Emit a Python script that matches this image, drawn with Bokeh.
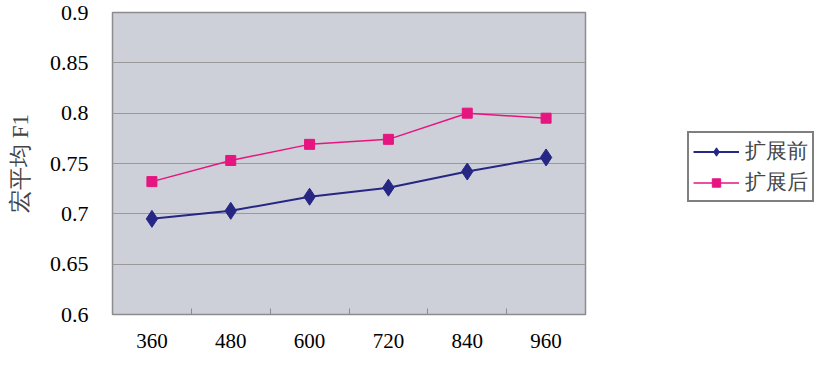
from bokeh.plotting import figure
from bokeh.models import FixedTicker, CustomJSTickFormatter, Legend, LegendItem, Range1d
from bokeh.embed import file_html
from bokeh.resources import INLINE

sizes = [360, 480, 600, 720, 840, 960]
before = [0.695, 0.703, 0.717, 0.726, 0.742, 0.756]
after = [0.732, 0.753, 0.769, 0.774, 0.800, 0.795]
series_names = ["扩展前", "扩展后"]
y_ticks = [0.6, 0.65, 0.7, 0.75, 0.8, 0.85, 0.9]
y_label = "宏平均 F1"

SERIF = "Liberation Serif"
BLUE = "#262684"
PINK = "#E6157F"

p = figure(frame_width=473, frame_height=302, output_backend="svg", toolbar_location=None,
           x_range=Range1d(300, 1020), y_range=Range1d(0.6, 0.9),
           min_border_left=112, min_border_top=12, min_border_bottom=39, min_border_right=226)
p.background_fill_color = "#CDD0D8"
p.border_fill_color = "white"
p.outline_line_color = "#8C8C8C"
p.outline_line_width = 1.5

r1 = p.line(sizes, before, line_color=BLUE, line_width=2)
m1 = p.scatter(sizes, before, marker="diamond", size=17, fill_color=BLUE, line_color=BLUE)
r2 = p.line(sizes, after, line_color=PINK, line_width=1.5)
m2 = p.scatter(sizes, after, marker="square", size=10, fill_color=PINK, line_color=PINK)

minor = [(a + b) / 2 for a, b in zip(sizes[:-1], sizes[1:])]
p.xaxis.ticker = FixedTicker(ticks=sizes, minor_ticks=minor)
p.xaxis.major_tick_line_color = None
p.xaxis.minor_tick_line_color = "#8C8C8C"
p.xaxis.minor_tick_in = 6
p.xaxis.minor_tick_out = 0
p.xaxis.axis_line_color = None
p.xaxis.major_label_standoff = 13
p.xaxis.major_label_text_font = SERIF
p.xaxis.major_label_text_font_size = "21px"
p.xaxis.major_label_text_color = "black"
p.xgrid.grid_line_color = None

p.yaxis.ticker = FixedTicker(ticks=y_ticks)
p.yaxis.formatter = CustomJSTickFormatter(code="return tick.toFixed(2).replace(/0$/, '');")
p.yaxis.major_tick_line_color = None
p.yaxis.minor_tick_line_color = None
p.yaxis.axis_line_color = None
p.yaxis.major_label_standoff = 18
p.yaxis.major_label_text_font = SERIF
p.yaxis.major_label_text_font_size = "22px"
p.yaxis.major_label_text_color = "black"
p.yaxis.axis_label = y_label
p.yaxis.axis_label_text_font = SERIF
p.yaxis.axis_label_text_font_size = "23px"
p.yaxis.axis_label_text_font_style = "normal"
p.yaxis.axis_label_standoff = 14
p.ygrid.grid_line_color = "#9A9A9A"
p.ygrid.grid_line_width = 1

legend = Legend(items=[LegendItem(label=series_names[0], renderers=[r1, m1]),
                       LegendItem(label=series_names[1], renderers=[r2, m2])],
                location=(102, 112), orientation="vertical")
legend.label_text_font = SERIF
legend.label_text_font_size = "21px"
legend.border_line_color = "black"
legend.border_line_width = 2
legend.background_fill_color = "white"
legend.glyph_width = 46
legend.glyph_height = 21
legend.label_height = 21
legend.spacing = 3
legend.padding = 4
legend.margin = 0
legend.label_standoff = 6
p.add_layout(legend, "right")

open("out.html", "w").write(file_html(p, INLINE))
